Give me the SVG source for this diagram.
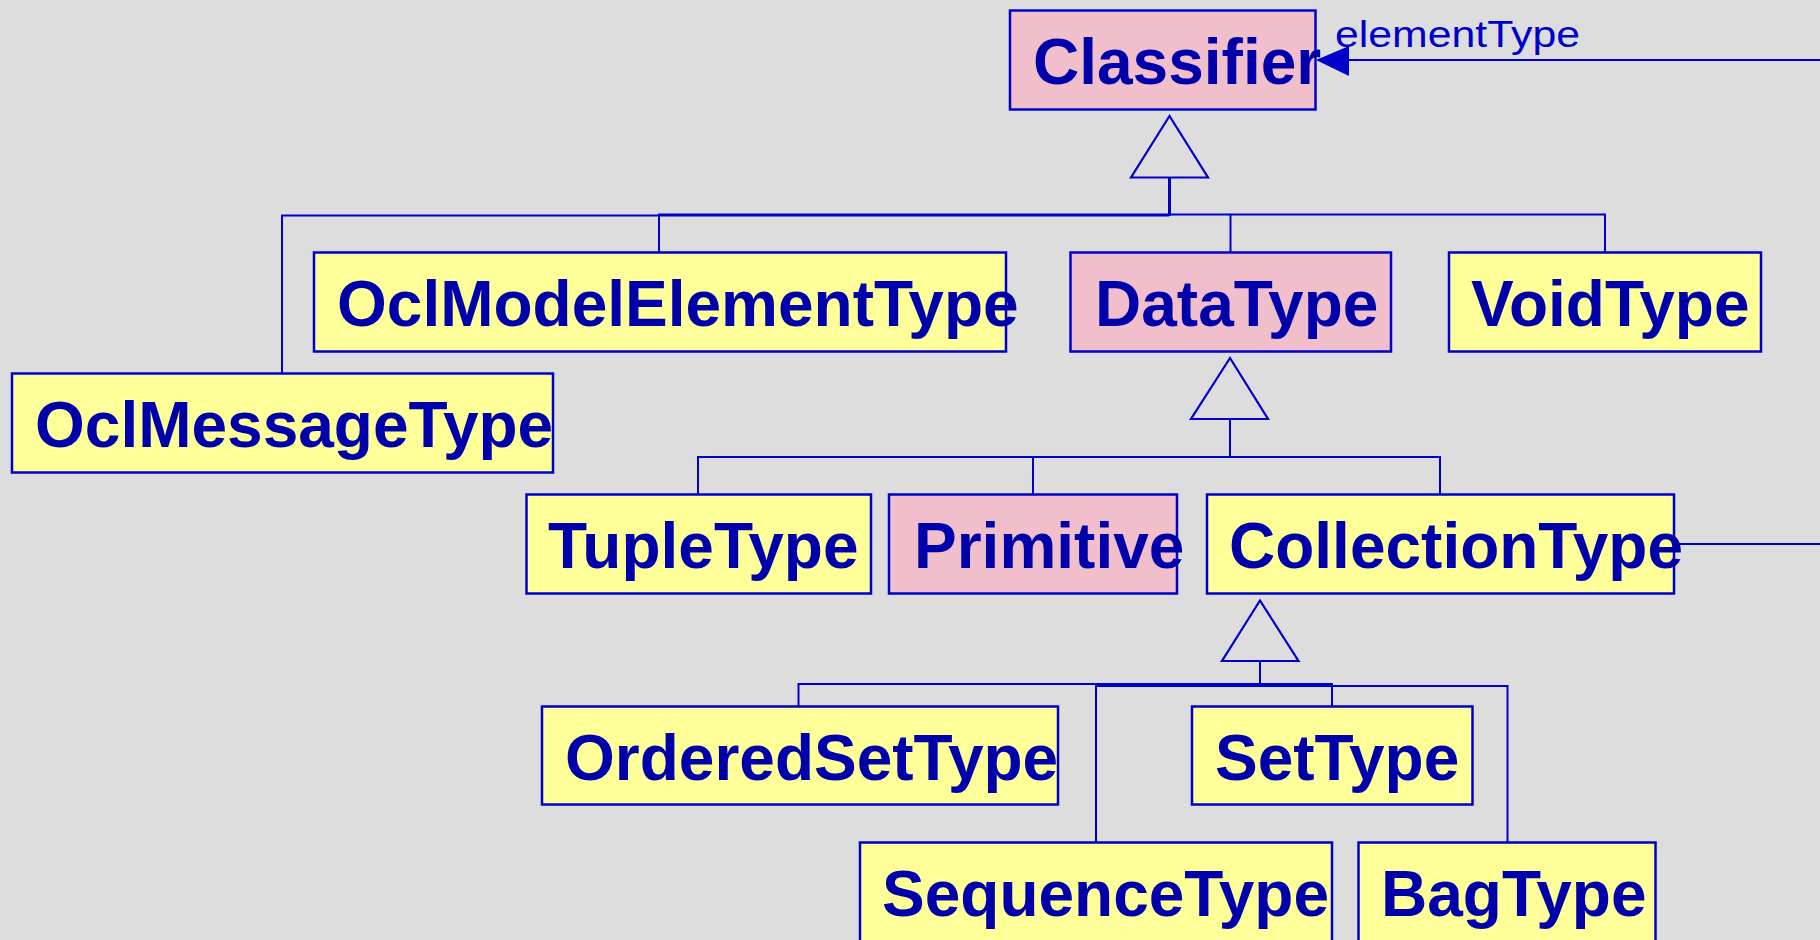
<svg xmlns="http://www.w3.org/2000/svg" width="1820" height="940" viewBox="0 0 1820 940">
  <style>
    .bg { fill: #DDDDDD; }
    .box { stroke: #0000CC; stroke-width: 2.5; }
    .abstract { fill: #F0BFCB; }
    .concrete { fill: #FFFF99; }
    .name { font-family: "Liberation Sans", Arial, sans-serif; font-weight: bold; font-size: 64px; fill: #0000AA; }
    .line { fill: none; stroke: #0000CC; stroke-width: 2; }
    .gen { fill: #DDDDDD; stroke: #0000CC; stroke-width: 2.2; stroke-linejoin: miter; }
    .role { font-family: "Liberation Sans", Arial, sans-serif; font-size: 36px; fill: #0000CC; }
  </style>
  <rect class="bg" x="0" y="0" width="1820" height="940"/>

  <!-- Connectors: generalization buses, hollow triangles, and the elementType association -->
  <g id="connectors">
    <!-- Classifier generalization -->
    <polyline class="line" points="282,373 282,215.5 1169,215.5"/>
    <polyline class="line" points="659,252 659,214.5 1605,214.5 1605,252"/>
    <line class="line" x1="1230.5" y1="214.5" x2="1230.5" y2="252"/>
    <line class="line" x1="1169.5" y1="177" x2="1169.5" y2="216" style="stroke-width:3"/>
    <polygon class="gen" points="1169.5,116 1131,177.5 1208,177.5"/>

    <!-- DataType generalization -->
    <polyline class="line" points="698,494 698,457 1440,457 1440,494"/>
    <line class="line" x1="1033" y1="457" x2="1033" y2="494"/>
    <line class="line" x1="1230" y1="419" x2="1230" y2="457"/>
    <polygon class="gen" points="1230,358 1191,419 1268,419"/>

    <!-- CollectionType generalization -->
    <polyline class="line" points="798.5,706 798.5,684 1332,684 1332,706"/>
    <polyline class="line" points="1096,842 1096,686 1507.5,686 1507.5,842"/>
    <line class="line" x1="1260" y1="661" x2="1260" y2="685"/>
    <polygon class="gen" points="1260,600.5 1222,661 1298.5,661"/>

    <!-- elementType association -->
    <line class="line" x1="1674" y1="544" x2="1820" y2="544"/>
    <line class="line" x1="1345" y1="60" x2="1820" y2="60"/>
    <polygon points="1316,60 1349,46 1349,76" fill="#0000CC"/>
    <text class="role" x="1335" y="47" textLength="245" lengthAdjust="spacingAndGlyphs">elementType</text>
  </g>

  <g id="Classifier">
    <rect class="box abstract" x="1010" y="10.5" width="305.5" height="99"/>
    <text class="name" x="1033" y="84">Classifier</text>
  </g>

  <g id="OclModelElementType">
    <rect class="box concrete" x="314" y="252.5" width="692" height="99"/>
    <text class="name" x="337" y="326">OclModelElementType</text>
  </g>

  <g id="DataType">
    <rect class="box abstract" x="1070.5" y="252.5" width="320.5" height="99"/>
    <text class="name" x="1095" y="326">DataType</text>
  </g>

  <g id="VoidType">
    <rect class="box concrete" x="1449" y="252.5" width="312" height="99"/>
    <text class="name" x="1471" y="326">VoidType</text>
  </g>

  <g id="OclMessageType">
    <rect class="box concrete" x="12" y="373.5" width="541" height="99"/>
    <text class="name" x="35" y="447">OclMessageType</text>
  </g>

  <g id="TupleType">
    <rect class="box concrete" x="526.5" y="494.5" width="344.5" height="99"/>
    <text class="name" x="548" y="568">TupleType</text>
  </g>

  <g id="Primitive">
    <rect class="box abstract" x="889" y="494.5" width="288" height="99"/>
    <text class="name" x="914" y="568">Primitive</text>
  </g>

  <g id="CollectionType">
    <rect class="box concrete" x="1207" y="494.5" width="467" height="99"/>
    <text class="name" x="1229" y="568">CollectionType</text>
  </g>

  <g id="OrderedSetType">
    <rect class="box concrete" x="542" y="706.5" width="516" height="98"/>
    <text class="name" x="565" y="780">OrderedSetType</text>
  </g>

  <g id="SetType">
    <rect class="box concrete" x="1192" y="706.5" width="280.5" height="98"/>
    <text class="name" x="1215" y="780">SetType</text>
  </g>

  <g id="SequenceType">
    <rect class="box concrete" x="860" y="842.5" width="472" height="100"/>
    <text class="name" x="882" y="916">SequenceType</text>
  </g>

  <g id="BagType">
    <rect class="box concrete" x="1358.5" y="842.5" width="297" height="100"/>
    <text class="name" x="1381" y="916">BagType</text>
  </g>
</svg>
